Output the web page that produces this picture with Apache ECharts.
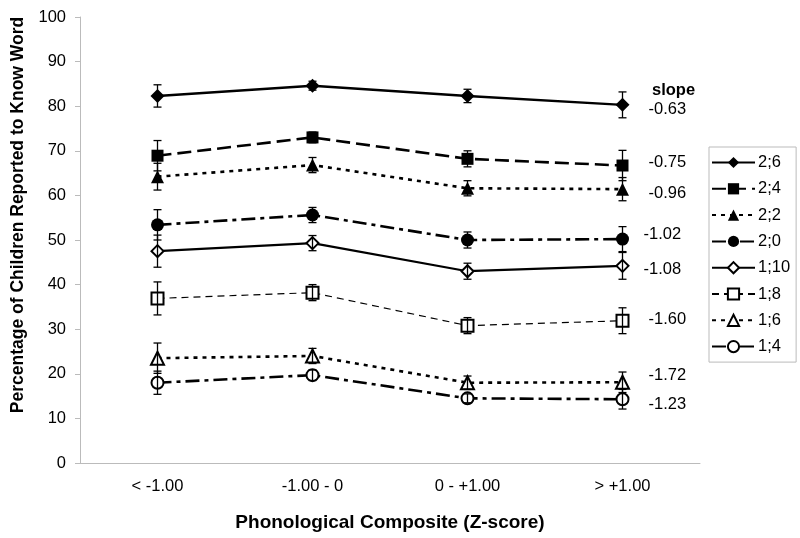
<!DOCTYPE html>
<html>
<head>
<meta charset="utf-8">
<script src="https://cdn.jsdelivr.net/npm/echarts@6/dist/echarts.min.js"></script>
<style>html,body{margin:0;padding:0;background:#fff}#c{width:800px;height:538px}</style>
</head>
<body>
<div id="c"></div>
<script>
const categories = ['< -1.00', '-1.00 - 0', '0 - +1.00', '> +1.00'];
const seriesNames = ['2;6', '2;4', '2;2', '2;0', '1;10', '1;8', '1;6', '1;4'];
const v26 = [82.3, 84.6, 82.3, 80.3];
const v24 = [68.9, 73.0, 68.2, 66.7];
const v22 = [64.2, 66.8, 61.6, 61.4];
const v20 = [53.4, 55.6, 50.0, 50.2];
const v110 = [47.5, 49.3, 43.0, 44.2];
const v18 = [36.9, 38.2, 30.8, 31.9];
const v16 = [23.5, 24.0, 18.0, 18.1];
const v14 = [18.0, 19.7, 14.5, 14.3];
const e26 = [2.5, 1.0, 1.5, 2.9];
const e24 = [3.4, 1.2, 1.8, 3.4];
const e22 = [3.0, 1.7, 1.7, 2.6];
const e20 = [3.4, 1.7, 1.8, 2.8];
const e110 = [3.6, 1.7, 1.8, 3.0];
const e18 = [3.7, 1.8, 1.8, 2.9];
const e16 = [3.4, 1.7, 1.5, 2.3];
const e14 = [2.6, 1.2, 1.0, 2.2];
const slopes = ['-0.63', '-0.75', '-0.96', '-1.02', '-1.08', '-1.60', '-1.72', '-1.23'];
const yTicks = [0, 10, 20, 30, 40, 50, 60, 70, 80, 90, 100];

const values = [v26, v24, v22, v20, v110, v18, v16, v14];
const errors = [e26, e24, e22, e20, e110, e18, e16, e14];

const styles = [
  {symbol: 'diamond', size: 14, width: 2.4, type: 'solid'},
  {symbol: 'rect', size: 12, width: 2.6, type: [14, 6]},
  {symbol: 'triangle', size: 13, width: 2.6, type: [4, 5]},
  {symbol: 'circle', size: 13, width: 2.6, type: [14, 5, 4, 5]},
  {symbol: 'emptyDiamond', size: 12, width: 2.2, type: 'solid'},
  {symbol: 'emptyRect', size: 12, width: 1.2, type: [7, 5]},
  {symbol: 'emptyTriangle', size: 13, width: 2.6, type: [4, 5]},
  {symbol: 'emptyCircle', size: 12, width: 2.6, type: [14, 5, 4, 5]}
];
const labelDy = [5, -3, 4, -5, 4, -1, -7, 5];
const labelDx = [0, 0, 0, -5, -5, 0, 0, 0];

const FONT = 'Liberation Sans, Arial, sans-serif';
const series = [];
values.forEach((vals, i) => {
  const data = vals.map((v, j) => [j, v - errors[i][j], v + errors[i][j]]);
  series.push({
    name: 'err' + i,
    type: 'custom',
    z: 3,
    silent: true,
    data: data,
    renderItem: function (params, api) {
      const top = api.coord([api.value(0), api.value(2)]);
      const bot = api.coord([api.value(0), api.value(1)]);
      const w = 4;
      const st = {stroke: '#000', lineWidth: 1.3};
      return {
        type: 'group',
        children: [
          {type: 'line', shape: {x1: top[0], y1: top[1], x2: bot[0], y2: bot[1]}, style: st},
          {type: 'line', shape: {x1: top[0] - w, y1: top[1], x2: top[0] + w, y2: top[1]}, style: st},
          {type: 'line', shape: {x1: bot[0] - w, y1: bot[1], x2: bot[0] + w, y2: bot[1]}, style: st}
        ]
      };
    }
  });
});
values.forEach((vals, i) => {
  const s = styles[i];
  series.push({
    name: seriesNames[i],
    type: 'line',
    z: 2,
    data: vals,
    symbol: s.symbol,
    symbolSize: s.size,
    showAllSymbol: true,
    itemStyle: {color: '#000', borderWidth: 1.3},
    lineStyle: {color: '#000', width: s.width, type: s.type},
    emphasis: {disabled: true},
    endLabel: {
      show: true,
      formatter: slopes[i],
      distance: 26 + labelDx[i],
      offset: [0, labelDy[i]],
      color: '#000',
      fontSize: 16.5,
      fontFamily: FONT
    }
  });
});

const chart = echarts.init(document.getElementById('c'));
chart.setOption({
  animation: false,
  backgroundColor: '#fff',
  title: {
    text: 'slope', left: 647, top: 77,
    textStyle: {fontSize: 16.5, fontWeight: 'bold', fontFamily: FONT, color: '#000'}
  },
  grid: {left: 80, right: 100, top: 17, bottom: 75, outerBoundsMode: 'none', containLabel: false},
  legend: {
    data: seriesNames,
    orient: 'vertical',
    left: 709, top: 147,
    itemWidth: 43, itemHeight: 14, itemGap: 9.3,
    padding: [7, 6, 7, 2],
    borderColor: '#bbb', borderWidth: 1,
    textStyle: {fontSize: 16.5, fontFamily: FONT, color: '#000', padding: [0, 0, 0, -2]}
  },
  xAxis: {
    type: 'category',
    data: categories,
    name: 'Phonological Composite (Z-score)',
    nameLocation: 'middle',
    nameGap: 50,
    nameTextStyle: {fontSize: 19, fontWeight: 'bold', fontFamily: FONT, color: '#000'},
    axisLine: {lineStyle: {color: '#bbb', width: 1}},
    axisTick: {length: 5, lineStyle: {color: '#bbb'}},
    axisLabel: {fontSize: 16.5, fontFamily: FONT, color: '#000', margin: 15}
  },
  yAxis: {
    type: 'value',
    min: yTicks[0], max: yTicks[yTicks.length - 1], interval: 10,
    name: 'Percentage of Children Reported to Know Word',
    nameLocation: 'middle',
    nameGap: 49,
    nameTextStyle: {fontSize: 17.5, fontWeight: 'bold', fontFamily: FONT, color: '#000', padding: [0, 0, 0, 50]},
    axisLine: {show: true, lineStyle: {color: '#bbb', width: 1}},
    axisTick: {show: true, length: 5, lineStyle: {color: '#bbb'}},
    splitLine: {show: false},
    axisLabel: {fontSize: 16.5, fontFamily: FONT, color: '#000', margin: 14}
  },
  series: series
});
</script>
</body>
</html>
